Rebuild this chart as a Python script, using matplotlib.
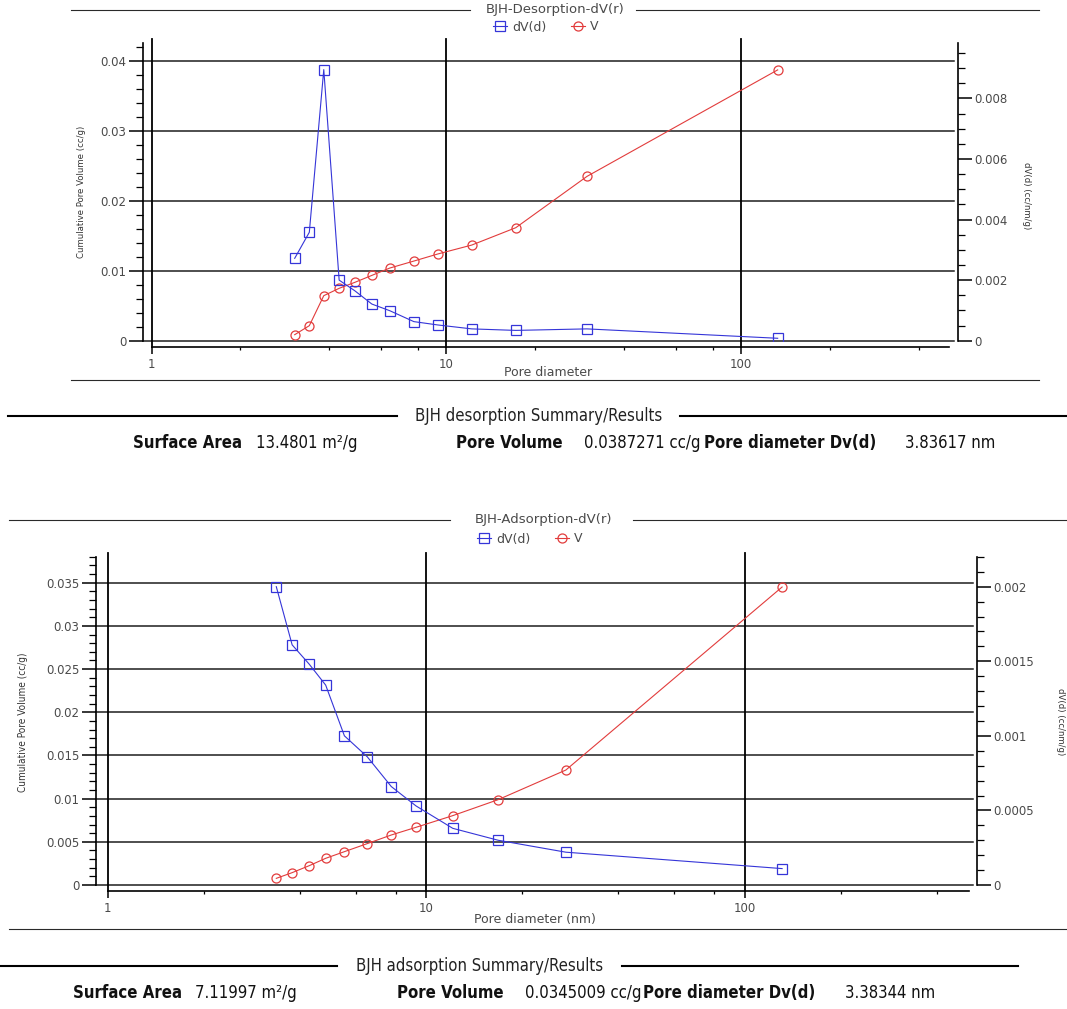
import numpy as np
import matplotlib
matplotlib.use('Agg')
import matplotlib.pyplot as plt
from matplotlib.lines import Line2D
from matplotlib.ticker import LogLocator, MultipleLocator, FuncFormatter, NullFormatter

# datos BJH desorcion (diametro nm, V acumulado cc/g, dV(d) cc/nm/g)
des_d = [3.06, 3.43, 3.84, 4.33, 4.89, 5.59, 6.43, 7.76, 9.35, 12.2, 17.2, 30.0, 133.0]
des_v = [0.00086, 0.00215, 0.00644, 0.00749, 0.00834, 0.00934, 0.01039, 0.01139,
         0.0124, 0.01368, 0.01616, 0.0235, 0.03873]
des_dv = [0.00272, 0.00358, 0.00895, 0.00200, 0.00165, 0.00121, 0.00099, 0.00063,
          0.00052, 0.00039, 0.00034, 0.00039, 0.00008]

# datos BJH adsorcion
ads_d = [3.38, 3.79, 4.29, 4.83, 5.53, 6.52, 7.76, 9.28, 12.1, 16.8, 27.4, 130.8]
ads_v = [0.00077, 0.00143, 0.00224, 0.00309, 0.00386, 0.00479, 0.00579, 0.00668,
         0.00803, 0.00988, 0.01331, 0.03450]
ads_dv = [0.00200, 0.00161, 0.00148, 0.00134, 0.00100, 0.00086, 0.00066, 0.00053,
          0.00038, 0.00030, 0.00022, 0.00011]

des_summary = ['Surface Area', '13.4801 m²/g', 'Pore Volume', '0.0387271 cc/g',
               'Pore diameter Dv(d)', '3.83617 nm']
ads_summary = ['Surface Area', '7.11997 m²/g', 'Pore Volume', '0.0345009 cc/g',
               'Pore diameter Dv(d)', '3.38344 nm']

W, H = 1067, 1009
fig = plt.figure(figsize=(W / 100, H / 100), dpi=100)

NARROW = ['Liberation Sans Narrow', 'DejaVu Sans']
BLUE = '#3535d8'
RED = '#e23c3c'
GRAY = '#4a4a4a'


def fx(x):
    return x / W


def fy(y):
    return 1 - y / H


def hline(x0, x1, y, lw=0.8, color='#2a2a2a'):
    fig.add_artist(Line2D([fx(x0), fx(x1)], [fy(y), fy(y)], transform=fig.transFigure,
                          color=color, lw=lw))


def panel(x0, x1, ytop, yzero, lout, rout, vmax, vstep, dvmax, dvstep, dvminor,
          d, v, dv):
    wpx, hpx = x1 - x0, yzero - ytop
    ax = fig.add_axes([fx(x0), fy(yzero), wpx / W, hpx / H])
    ax2 = ax.twinx()
    ax.set_xscale('log')
    ax.set_xlim(1, 505)
    ax.set_ylim(0, vmax)
    ax2.set_ylim(0, dvmax)

    lr, = ax.plot(d, v, color=RED, marker='o', ms=6.5, mfc='none', mew=0.9, lw=0.8, zorder=3)
    lb, = ax2.plot(d, dv, color=BLUE, marker='s', ms=6.5, mfc='none', mew=0.9, lw=0.8, zorder=3)

    ax.xaxis.set_major_locator(LogLocator(base=10))
    ax.xaxis.set_minor_locator(LogLocator(base=10, subs=(2, 4, 6, 8)))
    ax.xaxis.set_minor_formatter(NullFormatter())
    ax.xaxis.set_major_formatter(FuncFormatter(lambda x, p: '%g' % x))
    ax.yaxis.set_major_locator(MultipleLocator(vstep))
    ax.yaxis.set_minor_locator(MultipleLocator(vstep / 5))
    ax.yaxis.set_major_formatter(FuncFormatter(lambda x, p: '%g' % round(x, 6)))
    ax2.yaxis.set_major_locator(MultipleLocator(dvstep))
    ax2.yaxis.set_minor_locator(MultipleLocator(dvminor))
    ax2.yaxis.set_major_formatter(FuncFormatter(lambda x, p: '%g' % round(x, 6)))

    for a in (ax, ax2):
        a.tick_params(axis='y', which='major', length=10, width=1.1, pad=2,
                      labelsize=8.5, labelcolor=GRAY)
        a.tick_params(axis='y', which='minor', length=5, width=0.9)
    ax.tick_params(axis='x', which='major', length=5, width=1.1, pad=3,
                   labelsize=8.5, labelcolor=GRAY)
    ax.tick_params(axis='x', which='minor', length=2.5, width=0.9)

    ax.spines['top'].set_visible(False)
    ax.spines['right'].set_visible(False)
    ax.spines['left'].set_position(('outward', lout * 0.72))
    ax.spines['bottom'].set_position(('outward', 6 * 0.72))
    for s in ('left', 'bottom', 'right'):
        ax.spines[s].set_linewidth(1.2)
    for s in ('top', 'left', 'bottom'):
        ax2.spines[s].set_visible(False)
    ax2.spines['right'].set_position(('outward', rout * 0.72))
    ax2.spines['right'].set_linewidth(1.2)

    # rejilla: horizontales hasta los ejes, verticales en cada decada
    for val in np.arange(0, vmax + 1e-12, vstep):
        ax.axhline(val, xmin=-lout / wpx, xmax=1 + (rout - 4) / wpx, color='#1e1e1e',
                   lw=1.1, clip_on=False, zorder=1)
    for val in [t for t in ax.get_xticks() if 1 <= t <= 505]:
        ax.axvline(val, ymin=-6 / hpx, ymax=1 + 3.5 / hpx, color='black', lw=1.3,
                   clip_on=False, zorder=1)
    return ax, lb, lr


def summary(xs, y, values, title, tx, lines):
    hline(lines[0], lines[1], y - 27, lw=1.5, color='black')
    hline(lines[2], lines[3], y - 27, lw=1.5, color='black')
    fig.text(fx(tx), fy(y - 27), title, ha='center', va='center',
             fontsize=12, family=NARROW, fontstretch='condensed', color='#222222')
    for xp, txt, bold in zip(xs, values, [True, False, True, False, True, False]):
        fig.text(fx(xp), fy(y), txt, ha='left', va='center', fontsize=12, family=NARROW,
                 fontstretch='condensed', fontweight='bold' if bold else 'normal',
                 color='#111111')


# ---------------- panel superior: desorcion ----------------
ax, lb, lr = panel(151.5, 948.5, 42.7, 340.7, 8.5, 9.5, 0.04262, 0.01, 0.009838,
                   0.002, 0.0005, des_d, des_v, des_dv)
hline(71, 470, 10)
hline(636, 1039, 10)
fig.text(fx(555), fy(10), 'BJH-Desorption-dV(r)', ha='center', va='center', fontsize=9.5, color=GRAY)
fig.legend([lb, lr], ['dV(d)', 'V'], loc='center', bbox_to_anchor=(fx(546), fy(27)), ncol=2,
           frameon=False, fontsize=9, handlelength=1.1, handletextpad=0.4, columnspacing=2.0,
           borderpad=0, borderaxespad=0, labelcolor=GRAY)
fig.text(fx(82), fy(192), 'Cumulative Pore Volume (cc/g)', rotation=90, ha='center', va='center',
         fontsize=6.8, family=NARROW, fontstretch='condensed', color='#333333')
fig.text(fx(1027), fy(196), 'dV(d) (cc/nm/g)', rotation=270, ha='center', va='center',
         fontsize=6.8, family=NARROW, fontstretch='condensed', color='#333333')
fig.text(fx(548), fy(373), 'Pore diameter', ha='center', va='center', fontsize=9, color=GRAY)
hline(71, 1039, 380)

summary([133, 256, 456, 584, 704, 905], 443, des_summary,
        'BJH desorption Summary/Results', 539, [8, 397, 680, 1067])

# ---------------- panel inferior: adsorcion ----------------
ax, lb, lr = panel(107.8, 969, 556.7, 885, 12, 8, 0.03801, 0.005, 0.002201,
                   0.0005, 0.0001, ads_d, ads_v, ads_dv)
hline(9, 450, 520)
hline(633, 1067, 520)
fig.text(fx(543), fy(520), 'BJH-Adsorption-dV(r)', ha='center', va='center', fontsize=9.5, color=GRAY)
fig.legend([lb, lr], ['dV(d)', 'V'], loc='center', bbox_to_anchor=(fx(530), fy(539)), ncol=2,
           frameon=False, fontsize=9, handlelength=1.1, handletextpad=0.4, columnspacing=2.0,
           borderpad=0, borderaxespad=0, labelcolor=GRAY)
fig.text(fx(23), fy(722), 'Cumulative Pore Volume (cc/g)', rotation=90, ha='center', va='center',
         fontsize=7.2, family=NARROW, fontstretch='condensed', color='#333333')
fig.text(fx(1060), fy(722), 'dV(d) (cc/nm/g)', rotation=270, ha='center', va='center',
         fontsize=6.8, family=NARROW, fontstretch='condensed', color='#333333')
fig.text(fx(535), fy(920), 'Pore diameter (nm)', ha='center', va='center', fontsize=9, color=GRAY)
hline(9, 1067, 929)

summary([73, 195, 397, 525, 643, 845], 993, ads_summary,
        'BJH adsorption Summary/Results', 480, [0, 337, 622, 1018])

fig.savefig('out.png', dpi=100)
